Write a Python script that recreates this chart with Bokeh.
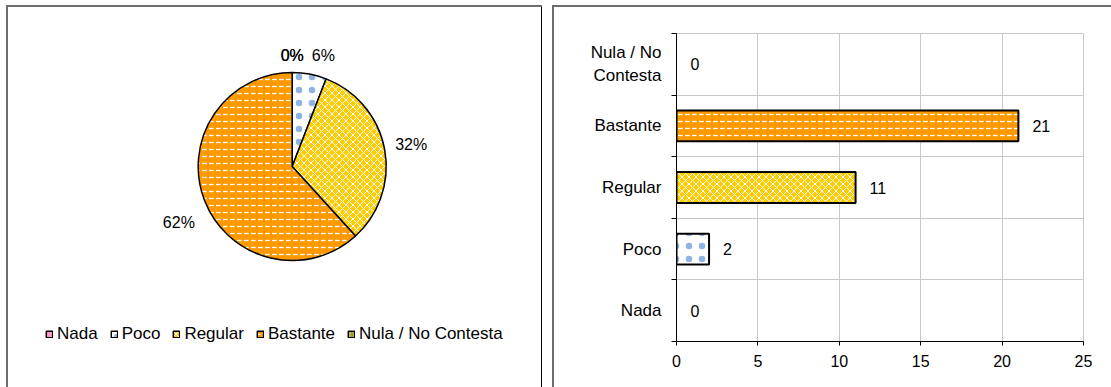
import math
from bokeh.plotting import figure
from bokeh.models import ColumnDataSource, Range1d, FixedTicker
from bokeh.layouts import row
from bokeh.embed import file_html
from bokeh.resources import INLINE
from bokeh.core.properties import value

# ---------------- data ----------------
categories = ["Nada", "Poco", "Regular", "Bastante", "Nula / No Contesta"]
axis_labels = ["Nada", "Poco", "Regular", "Bastante", "Nula / No\nContesta"]
counts = [0, 2, 11, 21, 0]
x_ticks = [0, 5, 10, 15, 20, 25]

# ---------------- styles ----------------
fill_colors = ["#FF99CC", "#FFFFFF", "#FFCC00", "#FF9900", "#999933"]
hatch_patterns = [" ", "dot", "diagonal_cross", "horizontal_dash", "vertical_line"]
hatch_colors = ["#FFFFFF", "#8FB3E3", "#FFFFFF", "#FFFFFF", "#E0E080"]
hatch_scales = [8, 13, 7, 7, 4]
hatch_weights = [1, 0.1, 1, 1.3, 1]

FONT = "Liberation Sans"
TXT = "17px"   # words (axis categories, legend)
NUM = "16px"   # numbers (data labels, tick labels)
FSN = 16

# ---------------- layout geometry (px) ----------------
PIE_W, PIE_H = 536, 382
BAR_W, BAR_H = 559, 382
BAR_BORDERS = dict(left=124, right=28, top=28, bottom=46)
CX, CY = 285.7, 161      # pie centre within the left panel (from left / top)
R = 94
LEGEND_CY = 329          # legend row centre within the left panel (from top)
LEGEND_X = 39
LABEL_H = 22

# ---------------- pie geometry ----------------
total = sum(counts)
fracs = [c / total for c in counts]
cum = [0.0]
for f in fracs:
    cum.append(cum[-1] + f)
start = [math.pi / 2 - 2 * math.pi * cum[i] for i in range(len(counts))]
end = [math.pi / 2 - 2 * math.pi * cum[i + 1] for i in range(len(counts))]
radii = [R if c > 0 else 0 for c in counts]
pct = [f"{round(100 * f)}%" for f in fracs]

def text_w(t):
    return FSN * sum(0.889 if ch == "%" else 0.556 for ch in t)

gap = 10
hh = 0.45 * FSN
lx, ly, boxes = [None] * len(counts), [None] * len(counts), [None] * len(counts)
order = [i for i in range(len(counts)) if counts[i] == 0] + [i for i in range(len(counts)) if counts[i] > 0]
for i in order:
    th = 2 * math.pi * (cum[i] + cum[i + 1]) / 2  # clockwise from top
    s, c = math.sin(th), math.cos(th)
    hw = text_w(pct[i]) / 2
    d = R + gap + abs(s) * hw + abs(c) * hh
    x, y = d * s, d * c
    if c < 0:               # labels of the lower half sit lower
        y += c * 2.1 * FSN
    if counts[i] > 0:
        for b in boxes:
            if b is None:
                continue
            bx, by, bhw = b
            if abs(y - by) < 2 * hh and abs(x - bx) < bhw + hw + 8:
                x = bx + bhw + hw + 8 if s >= 0 else bx - bhw - hw - 8
    lx[i], ly[i] = x, y
    boxes[i] = (x, y, hw)

pie_src = ColumnDataSource(dict(
    category=categories, start=start, end=end, radius=radii,
    fill=fill_colors, hatch=hatch_patterns, hcol=hatch_colors,
    hscale=hatch_scales, hweight=hatch_weights,
))
lab_src = ColumnDataSource(dict(x=lx, y=ly, text=pct))

pie = figure(width=PIE_W, height=PIE_H,
             x_axis_location=None, y_axis_location=None,
             output_backend="svg", toolbar_location=None, min_border=0)

# the pie frame: full panel if frame alignment can be switched off, else aligned with the bar frame
if "frame_align" in pie.properties():
    pie.frame_align = False
    FT, FB = 0, PIE_H
else:
    FT, FB = BAR_BORDERS["top"], PIE_H - BAR_BORDERS["bottom"]
pie.x_range = Range1d(-CX, PIE_W - CX)
pie.y_range = Range1d(-(FB - CY), CY - FT)

pie.grid.visible = False
pie.outline_line_color = None
pie.background_fill_color = None
pie.border_fill_color = None

pie.wedge(x=0, y=0, radius="radius", start_angle="start", end_angle="end", direction="clock",
          source=pie_src, fill_color="fill", line_color="black", line_width=1.5,
          hatch_pattern="hatch", hatch_color="hcol", hatch_scale="hscale", hatch_weight="hweight",
          legend_field="category")
pie.text(x="x", y="y", text="text", source=lab_src, text_align="center", text_baseline="middle",
         text_font=value(FONT), text_font_size=value(NUM), text_color="#000000")

lg = pie.legend[0]
lg.orientation = "horizontal"
lg.location = (LEGEND_X, FB - LEGEND_CY - LABEL_H / 2)
lg.border_line_color = None
lg.background_fill_alpha = 0
lg.padding = 0
lg.margin = 0
lg.spacing = 12
lg.glyph_width = 8
lg.glyph_height = 8
lg.label_standoff = 4
lg.label_text_font = FONT
lg.label_text_font_size = TXT
lg.label_text_color = "#000000"
lg.label_height = LABEL_H
pie.styles = {"box-shadow": "inset 2px 2px 0 0 #6d6d6d, inset -1px 0 0 0 #000000"}

# ---------------- bars ----------------
centers = [i + 0.5 for i in range(len(categories))]
bar = figure(width=BAR_W, height=BAR_H,
             x_range=Range1d(0, max(x_ticks)), y_range=Range1d(0, len(categories)),
             output_backend="svg", toolbar_location=None,
             min_border_left=BAR_BORDERS["left"], min_border_right=BAR_BORDERS["right"],
             min_border_top=BAR_BORDERS["top"], min_border_bottom=BAR_BORDERS["bottom"])
if "frame_align" in bar.properties():
    bar.frame_align = False
bar.background_fill_color = None
bar.border_fill_color = None
bar.outline_line_color = "#c8c8c8"
bar.outline_line_width = 1

bar.xaxis.ticker = FixedTicker(ticks=x_ticks)
bar.xaxis.major_tick_out = 4
bar.xaxis.major_tick_in = 0
bar.xaxis.major_tick_line_color = "#000000"
bar.xaxis.minor_tick_line_color = None
bar.xaxis.major_label_standoff = 9
bar.xaxis.major_label_text_font_size = NUM

bar.yaxis.ticker = FixedTicker(ticks=centers, minor_ticks=list(range(len(categories) + 1)))
bar.yaxis.major_label_overrides = {c: lab for c, lab in zip(centers, axis_labels)}
bar.yaxis.major_tick_line_color = None
bar.yaxis.major_tick_out = 0
bar.yaxis.major_tick_in = 0
bar.yaxis.minor_tick_line_color = "#000000"
bar.yaxis.minor_tick_out = 5
bar.yaxis.minor_tick_in = 0
bar.yaxis.major_label_standoff = 10
bar.yaxis.major_label_text_font_size = TXT

for ax in (bar.xaxis, bar.yaxis):
    ax.axis_line_color = "#000000"
    ax.axis_line_width = 1
    ax.major_label_text_font = FONT
    ax.major_label_text_color = "#000000"

bar.xgrid.grid_line_color = "#c8c8c8"
bar.ygrid.ticker = FixedTicker(ticks=list(range(len(categories) + 1)))
bar.ygrid.grid_line_color = "#c8c8c8"

bar_src = ColumnDataSource(dict(
    y=centers, right=counts, label=[str(c) for c in counts],
    fill=fill_colors, hatch=hatch_patterns, hcol=hatch_colors,
    hscale=hatch_scales, hweight=hatch_weights,
    lalpha=[1 if c > 0 else 0 for c in counts],
))
bar.hbar(y="y", left=0, right="right", height=0.5, source=bar_src,
         fill_color="fill", line_color="black", line_width=2, line_alpha="lalpha",
         hatch_pattern="hatch", hatch_color="hcol", hatch_scale="hscale", hatch_weight="hweight")
bar.text(x="right", y="y", text="label", source=bar_src, x_offset=14,
         text_align="left", text_baseline="middle",
         text_font=value(FONT), text_font_size=value(NUM), text_color="#000000")
bar.styles = {"box-shadow": "inset 2px 2px 0 0 #6d6d6d"}

layout = row(pie, bar, spacing=10, margin=(5, 0, 0, 6))
open("out.html", "w").write(file_html(layout, INLINE))
